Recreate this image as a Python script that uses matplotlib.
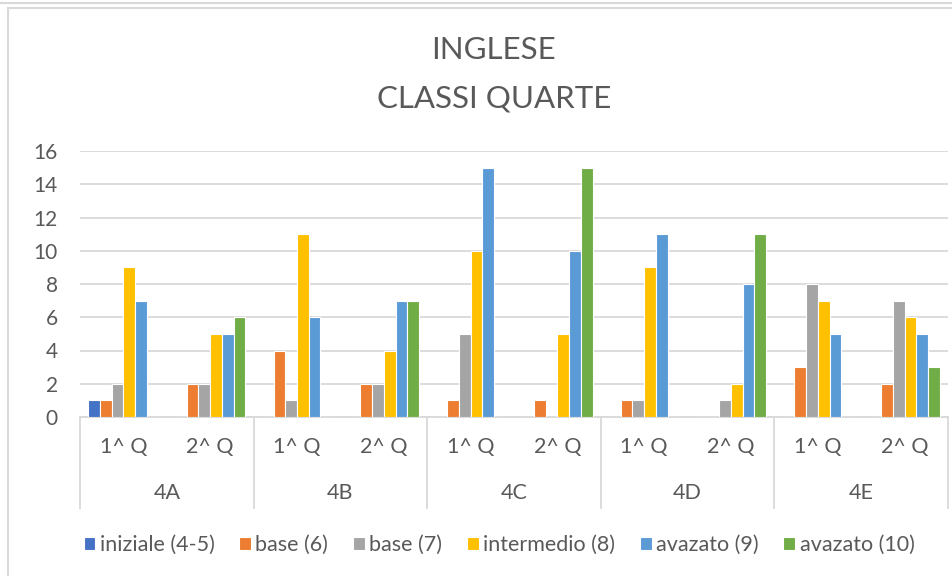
import numpy as np
import matplotlib.pyplot as plt
from matplotlib.patches import Rectangle
from matplotlib.transforms import blended_transform_factory

plt.rcParams['font.family'] = ['Lato', 'DejaVu Sans']

# ----- data -----
classes = ["4A", "4B", "4C", "4D", "4E"]
quarters = ["1^ Q", "2^ Q"]
series_names = ["iniziale (4-5)", "base (6)", "base (7)", "intermedio (8)",
                "avazato (9)", "avazato (10)"]
colors = ["#4472C4", "#ED7D31", "#A5A5A5", "#FFC000", "#5B9BD5", "#70AD47"]

# one value per (class, quarter): 4A 1Q, 4A 2Q, 4B 1Q, ...
iniziale = [1, 0, 0, 0, 0, 0, 0, 0, 0, 0]
base6 = [1, 2, 4, 2, 1, 1, 1, 0, 3, 2]
base7 = [2, 2, 1, 2, 5, 0, 1, 1, 8, 7]
intermedio = [9, 5, 11, 4, 10, 5, 9, 2, 7, 6]
avanzato9 = [7, 5, 6, 7, 15, 10, 11, 8, 5, 5]
avanzato10 = [0, 6, 0, 7, 0, 15, 0, 11, 0, 3]
all_series = [iniziale, base6, base7, intermedio, avanzato9, avanzato10]

W, H = 953, 576
fig = plt.figure(figsize=(W / 100, H / 100), dpi=100)
ax = fig.add_axes([80 / W, 1 - 417 / H, 868 / W, 266 / H])

text_col = "#595959"
grid_col = "#D9D9D9"

n_cat = len(classes) * len(quarters)
x = np.arange(n_cat)
slot = 0.135
for i, vals in enumerate(all_series):
    offs = (i - 2.5) * slot
    ax.bar(x + offs, vals, width=slot, color=colors[i], edgecolor="white",
           linewidth=0.8, label=series_names[i], zorder=3)

ax.set_xlim(-0.5, n_cat - 0.5)
ax.set_ylim(0, 16)
ax.set_yticks(range(0, 17, 2))
ax.tick_params(axis="y", length=0, labelsize=15, colors=text_col, pad=16)
ax.set_xticks([])
ax.grid(axis="y", color=grid_col, linewidth=1.3, zorder=0)
for s in ["top", "right", "left"]:
    ax.spines[s].set_visible(False)
ax.spines["bottom"].set_color(grid_col)
ax.spines["bottom"].set_linewidth(1.3)

# two-level category axis
tr = blended_transform_factory(ax.transData, fig.transFigure)
y_q = 1 - 447 / H
y_c = 1 - 493 / H
y_low = 1 - 508 / H
y_ax = 1 - 417 / H
for k in range(n_cat):
    fig.text(x[k], y_q, quarters[k % 2], transform=tr, ha="center", va="center",
             fontsize=15.5, color=text_col)
for c in range(len(classes)):
    fig.text(2 * c + 0.5, y_c, classes[c], transform=tr, ha="center", va="center",
             fontsize=15.5, color=text_col)
for c in range(len(classes) + 1):
    xb = 2 * c - 0.5
    fig.add_artist(plt.Line2D([xb, xb], [y_low, y_ax], transform=tr,
                              color=grid_col, linewidth=1.3))

# title
fig.text(494 / W, 1 - 50 / H, "INGLESE", ha="center", va="center",
         fontsize=22.5, color=text_col)
fig.text(494 / W, 1 - 98 / H, "CLASSI QUARTE", ha="center", va="center",
         fontsize=22.5, color=text_col)

# legend
fig.legend(loc="center", bbox_to_anchor=(499 / W, 1 - 545 / H), ncol=6,
           frameon=False, fontsize=15.5, handlelength=0.55, handleheight=0.55,
           handletextpad=0.2, columnspacing=1.15, labelcolor=text_col)

# chart frame
fig.add_artist(Rectangle((8 / W, -0.01), 1, 1 - 8 / H + 0.01, transform=fig.transFigure,
                         fill=False, edgecolor=grid_col, linewidth=1.5))
fig.add_artist(plt.Line2D([0, 1], [1 - 3 / H, 1 - 3 / H], transform=fig.transFigure,
                          color=grid_col, linewidth=1.5))

fig.savefig("out.png", dpi=100, facecolor="white")
